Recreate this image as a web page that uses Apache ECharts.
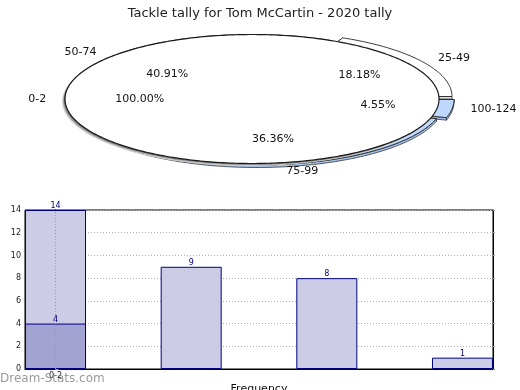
<!DOCTYPE html>
<html>
<head>
<meta charset="utf-8">
<script src="https://cdn.jsdelivr.net/npm/echarts@6/dist/echarts.min.js"></script>
<style>
html,body{margin:0;padding:0;background:#fff;}
#chart{width:520px;height:390px;}
</style>
</head>
<body>
<div id="chart"></div>
<script>
// ---- data ----
const chartTitle = 'Tackle tally for Tom McCartin - 2020 tally';
// pie slices, counter-clockwise from 3 o'clock
const pieSliceNames = ['25-49', '50-74', '75-99', '100-124'];
const pieSliceValues = [4, 9, 8, 1];
// the separate full slice drawn on top (100%)
const pieWholeName = '0-2';
const pieWholeValue = 4;
// bar chart
const barPositions = [0, 1, 2, 3];
const barValues = [14, 9, 8, 1];
const barOverlayValues = [4];
const barTickLabels = ['0-2'];
const yAxisTitle = 'Stat Intervals';
const xAxisTitle = 'Frequency';
const watermark = 'Dream-Stats.com';

// ---- styles ----
const FONT = 'DejaVu Sans';
const PIE = { cx: 252, cy: 99, rx: 187, ry: 64.5, depth: 2.5 };
// explode offsets (style) per slice [dx, dy]
const sliceExplode = [[13, -2.5], [0, 0], [5, 1.5], [15, 0.5]];
const sliceTop = ['#ffffff', '#ffffff', '#bdd8fc', '#bdd8fc'];
const sliceSide = ['#e4e4e4', '#e4e4e4', '#a8c4ea', '#a8c4ea'];

const total = pieSliceValues.reduce((a, b) => a + b, 0);
const starts = [];
(function () { let acc = 0; pieSliceValues.forEach(v => { starts.push(acc / total * 360); acc += v; }); })();

function pt(t, ox, oy, dy) {
  const r = t * Math.PI / 180;
  return [PIE.cx + ox + PIE.rx * Math.cos(r), PIE.cy + oy + dy - PIE.ry * Math.sin(r)];
}
function arc(a0, a1, ox, oy, dy) {
  const pts = [];
  const n = Math.max(2, Math.ceil(Math.abs(a1 - a0)));
  for (let k = 0; k <= n; k++) pts.push(pt(a0 + (a1 - a0) * k / n, ox, oy, dy));
  return pts;
}

function renderPie(params, api) {
  const i = params.dataIndex;
  const children = [];
  if (i < pieSliceValues.length) {
    const v = api.value(1);
    const a0 = starts[i], a1 = a0 + v / total * 360, m = (a0 + a1) / 2;
    const mr = m * Math.PI / 180;
    const ox = sliceExplode[i][0], oy = sliceExplode[i][1];
    const c = [PIE.cx + ox, PIE.cy + oy];
    const zb = Math.round(-Math.sin(mr) * 10) + 20;
    // radial walls
    [a0, a1].forEach(a => {
      const p = pt(a, ox, oy, 0);
      children.push({ type: 'polygon', z2: zb,
        shape: { points: [c, p, [p[0], p[1] + PIE.depth], [c[0], c[1] + PIE.depth]] },
        style: { fill: sliceSide[i], stroke: '#333', lineWidth: 0.8 } });
    });
    // outer side
    const s0 = Math.max(a0, 180), s1 = Math.min(a1, 360);
    if (s1 > s0) {
      const pts = arc(s0, s1, ox, oy, 0).concat(arc(s1, s0, ox, oy, PIE.depth));
      children.push({ type: 'polygon', z2: zb + 1, shape: { points: pts },
        style: { fill: sliceSide[i], stroke: '#333', lineWidth: 0.8 } });
    }
    // top
    children.push({ type: 'polygon', z2: zb + 2,
      shape: { points: [c].concat(arc(a0, a1, ox, oy, 0)) },
      style: { fill: sliceTop[i], stroke: '#222', lineWidth: 0.9 } });
    // labels
    const pct = (v / total * 100).toFixed(2) + '%';
    const kp = 0.6, kn = 1.1;
    const px = PIE.cx + ox + PIE.rx * kp * Math.cos(mr), py = PIE.cy + oy - PIE.ry * kp * Math.sin(mr);
    const nx = PIE.cx + ox + PIE.rx * kn * Math.cos(mr), ny = PIE.cy + oy - PIE.ry * kn * Math.sin(mr);
    const right = Math.cos(mr) >= 0;
    children.push({ type: 'text', z2: 2000, style: { x: px, y: py, text: pct, fill: '#111',
      font: '11px "' + FONT + '"', align: 'center', verticalAlign: 'middle' } });
    children.push({ type: 'text', z2: 2000, style: { x: nx, y: ny, text: pieSliceNames[i], fill: '#111',
      font: '11px "' + FONT + '"', align: right ? 'left' : 'right', verticalAlign: 'middle' } });
  } else {
    // whole-disk slice (0-2)
    const shadows = [[-3, 2.5, '#d8d8d8'], [-2, 1.8, '#a8a8a8'], [-1, 1, '#707070']];
    shadows.forEach((s, k) => {
      children.push({ type: 'polygon', z2: 1000 + k,
        shape: { points: arc(0, 360, s[0], s[1], 0) }, style: { fill: s[2], stroke: null } });
    });
    children.push({ type: 'polygon', z2: 1010, shape: { points: arc(0, 360, 0, 0, 0) },
      style: { fill: '#ffffff', stroke: '#1a1a1a', lineWidth: 1.2 } });
    const m = Math.PI;
    const kp = 0.6, kn = 1.1;
    children.push({ type: 'text', z2: 2000, style: {
      x: PIE.cx + PIE.rx * kp * Math.cos(m), y: PIE.cy, text: (100).toFixed(2) + '%', fill: '#111',
      font: '11px "' + FONT + '"', align: 'center', verticalAlign: 'middle' } });
    children.push({ type: 'text', z2: 2000, style: {
      x: PIE.cx + PIE.rx * kn * Math.cos(m), y: PIE.cy, text: pieWholeName, fill: '#111',
      font: '11px "' + FONT + '"', align: 'right', verticalAlign: 'middle' } });
  }
  return { type: 'group', children: children };
}

const pieData = pieSliceValues.map((v, i) => [i, v]).concat([[pieSliceValues.length, pieWholeValue]]);

const chart = echarts.init(document.getElementById('chart'), null, { renderer: 'canvas' });
const option = {
  animation: false,
  backgroundColor: '#ffffff',
  textStyle: { fontFamily: FONT },
  title: {
    text: chartTitle, left: 'center', top: 2,
    textStyle: { fontSize: 13, fontWeight: 'normal', color: '#222', fontFamily: FONT }
  },
  grid: { left: 25, right: 27, top: 210, bottom: 21, show: true, borderColor: '#000', borderWidth: 1,
    backgroundColor: 'transparent', containLabel: false, outerBoundsMode: 'none' },
  xAxis: {
    type: 'value', min: -0.225, max: 3.225,
    name: xAxisTitle, nameLocation: 'middle', nameGap: 15,
    nameTextStyle: { fontSize: 11, color: '#111', verticalAlign: 'top' },
    axisLine: { show: true, lineStyle: { color: '#000' } },
    axisTick: { show: false }, axisLabel: { show: false }, splitLine: { show: false }
  },
  yAxis: [{
    type: 'value', min: 0, max: 14, interval: 2,
    name: yAxisTitle, nameLocation: 'middle', nameGap: 14,
    nameTextStyle: { fontSize: 11, color: '#111' },
    axisLine: { show: true, lineStyle: { color: '#000' } },
    axisTick: { show: true, inside: true, length: 3, lineStyle: { color: '#999' } },
    axisLabel: { fontSize: 8, color: '#222', margin: 4 },
    splitLine: { show: true, lineStyle: { color: '#b0b0b0', type: [1, 2] } }
  }, {
    type: 'value', min: 0, max: 14, interval: 2, position: 'right',
    axisLine: { show: true, lineStyle: { color: '#000' } },
    axisTick: { show: true, length: 2, lineStyle: { color: '#999' } },
    axisLabel: { show: false }, splitLine: { show: false }
  }],
  graphic: [{
    type: 'text', left: 0, top: 373, z: 100,
    style: { text: watermark, fill: 'rgba(130,130,130,0.8)', font: '12px "' + FONT + '"' }
  }],
  series: [
    {
      type: 'custom', coordinateSystem: 'none', renderItem: renderPie, data: pieData, silent: true
    },
    {
      type: 'bar', xAxisIndex: 0, yAxisIndex: 0, barWidth: 61, barGap: '-100%',
      data: barPositions.map((x, i) => [x, barValues[i]]),
      itemStyle: { color: '#ccccE6', borderColor: '#000080', borderWidth: 1 },
      label: { show: true, position: 'top', distance: 0, fontSize: 8, color: '#000080' },
      markLine: {
        silent: true, symbol: 'none',
        lineStyle: { color: '#999', type: [1, 2], width: 1 },
        label: { show: true, position: 'start', formatter: () => barTickLabels[0], fontSize: 8, color: '#222', distance: 3 },
        data: [{ xAxis: barPositions[0] }]
      }
    },
    {
      type: 'bar', xAxisIndex: 0, yAxisIndex: 0, barWidth: 61, barGap: '-100%',
      data: barOverlayValues.map((v, i) => [barPositions[i], v]),
      itemStyle: { color: '#a3a3d1', borderColor: '#000080', borderWidth: 1 },
      label: { show: true, position: 'top', distance: 0, fontSize: 8, color: '#000080' }
    }
  ]
};
chart.setOption(option);
</script>
</body>
</html>
